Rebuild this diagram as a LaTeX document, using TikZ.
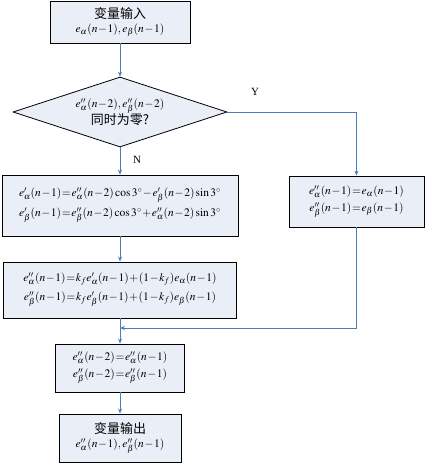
\documentclass[tikz,border=0pt]{standalone}
\usepackage{mathptmx}
\usepackage{fontspec}
\setmainfont{Liberation Serif}
\newfontfamily\cjk{Noto Sans CJK SC}
\usetikzlibrary{shapes.geometric,arrows.meta}
\definecolor{boxfill}{HTML}{E9EEF7}
\definecolor{linec}{HTML}{4A7EBB}
\thickmuskip=1mu
\medmuskip=1mu
\tikzset{
  box/.style={draw=black, fill=boxfill, line width=0.8pt, rectangle, inner sep=0pt, align=center, font=\fontsize{11.5}{15}\selectfont},
  dec/.style={draw=black, fill=boxfill, line width=0.8pt, diamond, aspect=3, inner sep=0pt, align=center, font=\fontsize{11.5}{15}\selectfont},
  conn/.style={draw=linec, line width=0.8pt, -{Stealth[length=5pt,width=4pt]}},
  lab/.style={font=\fontsize{11}{13}\selectfont}
}
\begin{document}
\begin{tikzpicture}[x=1pt,y=-1pt]
\useasboundingbox (0,0) rectangle (425,464);
\node[box, minimum width=140pt, minimum height=42pt] (in) at (120,22)
  {{\cjk\fontsize{13}{15}\selectfont 变量输入}\\[-1pt] $e_\alpha(n-1),e_\beta(n-1)$};
\node[dec, minimum width=214pt, minimum height=70pt] (dec) at (120,112)
  {$e''_\alpha(n-2),e''_\beta(n-2)$\\[-1pt] {\cjk\fontsize{13}{15}\selectfont 同时为零?}};
\node[box, minimum width=236pt, minimum height=61pt] (rot) at (120,205.5)
  {$e'_\alpha(n-1)=e''_\alpha(n-2)\cos3^\circ-e'_\beta(n-2)\sin3^\circ$\\[5pt]
   $e'_\beta(n-1)=e''_\beta(n-2)\cos3^\circ+e''_\alpha(n-2)\sin3^\circ$};
\node[box, minimum width=233pt, minimum height=56pt] (flt) at (120,290)
  {$e''_\alpha(n-1)=k_f e'_\alpha(n-1)+(1-k_f)e_\alpha(n-1)$\\[4pt]
   $e''_\beta(n-1)=k_f e'_\beta(n-1)+(1-k_f)e_\beta(n-1)$};
\node[box, minimum width=135pt, minimum height=51pt] (rgt) at (356.5,201.5)
  {$e''_\alpha(n-1)=e_\alpha(n-1)$\\[2pt] $e''_\beta(n-1)=e_\beta(n-1)$};
\node[box, minimum width=129pt, minimum height=48pt] (upd) at (120,368)
  {$e''_\alpha(n-2)=e''_\alpha(n-1)$\\[2pt] $e''_\beta(n-2)=e''_\beta(n-1)$};
\node[box, minimum width=122pt, minimum height=48pt] (out) at (120,438)
  {{\cjk\fontsize{13}{15}\selectfont 变量输出}\\[-1pt] $e''_\alpha(n-1),e''_\beta(n-1)$};
\coordinate (m) at (120,328);
\draw[conn] (in.south) -- (dec.north);
\draw[conn] (dec.south) -- (rot.north);
\draw[conn] (rot.south) -- (flt.north);
\draw[conn] (flt.south) -- (upd.north);
\draw[conn] (upd.south) -- (out.north);
\draw[conn] (dec.east) -| (rgt.north);
\draw[conn] (rgt.south) |- (m);
\node[lab] (ylab) at (255,92) {Y};
\node[lab] (nlab) at (137,160) {N};
\end{tikzpicture}
\end{document}
